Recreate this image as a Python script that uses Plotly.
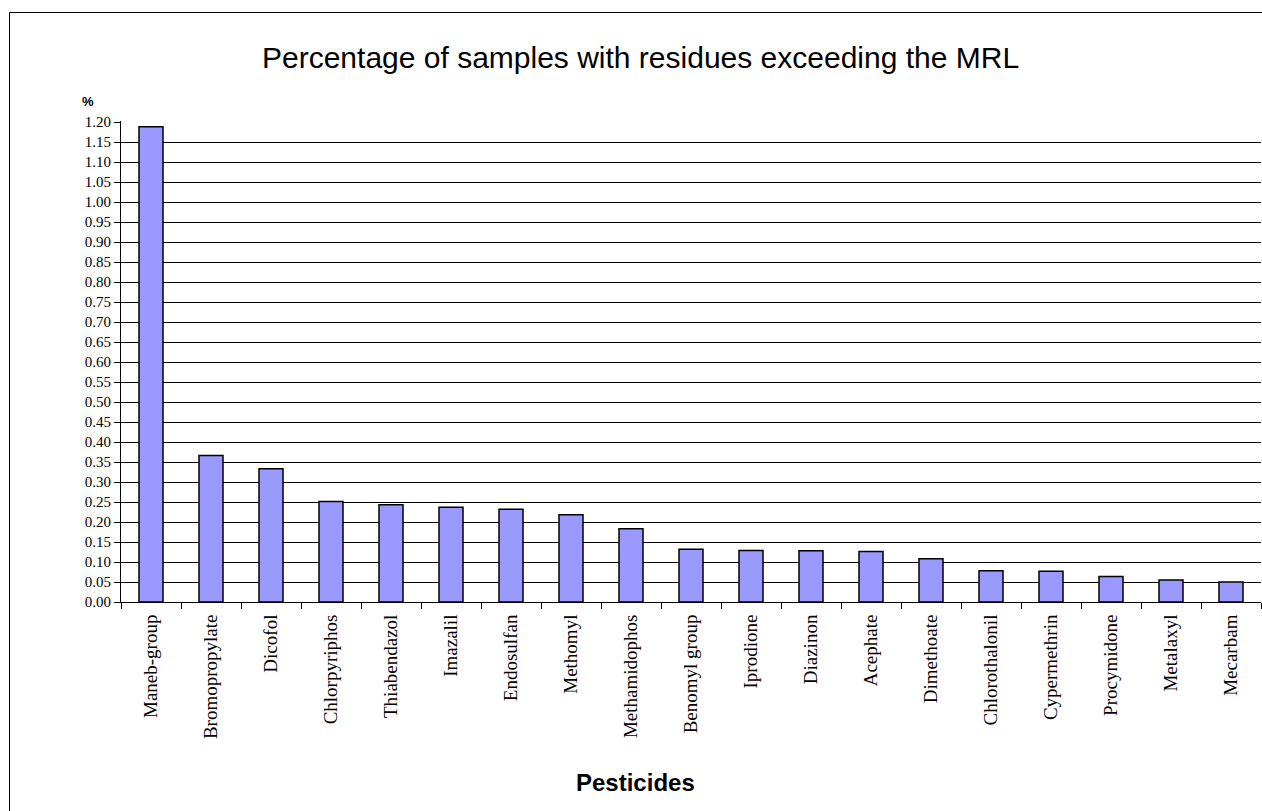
import plotly.graph_objects as go

pesticides = ["Maneb-group", "Bromopropylate", "Dicofol", "Chlorpyriphos", "Thiabendazol",
              "Imazalil", "Endosulfan", "Methomyl", "Methamidophos", "Benomyl group",
              "Iprodione", "Diazinon", "Acephate", "Dimethoate", "Chlorothalonil",
              "Cypermethrin", "Procymidone", "Metalaxyl", "Mecarbam"]
percent = [1.188, 0.366, 0.333, 0.251, 0.243, 0.237, 0.232, 0.218, 0.183, 0.132,
           0.129, 0.128, 0.126, 0.108, 0.078, 0.077, 0.064, 0.055, 0.050]
ytick_vals = [i * 0.05 for i in range(25)]
ytick_text = [f"{v:.2f}" for v in ytick_vals]

W, H = 1262, 811
L, R, T, B = 121, 1, 121, 209
pw = W - L - R
ph = H - T - B

def px_x(p):
    return (p - L) / pw

def px_y(p):
    return (H - B - p) / ph

fig = go.Figure()
fig.add_trace(go.Bar(
    x=pesticides, y=percent,
    marker=dict(color="#9999FF", line=dict(color="black", width=1.5)),
    hoverinfo="x+y",
))

fig.update_layout(
    width=W, height=H,
    margin=dict(l=L, r=R, t=T, b=B, pad=0),
    paper_bgcolor="white", plot_bgcolor="white",
    bargap=0.6,
    showlegend=False,
    xaxis=dict(
        type="category",
        showline=True, linecolor="black", linewidth=1,
        ticks="outside", tickson="boundaries", ticklen=6, tickcolor="black", tickwidth=1,
        tickangle=-90, ticklabelstandoff=4,
        tickfont=dict(family="Liberation Serif, Times New Roman, serif", size=19, color="black"),
        showgrid=False,
    ),
    yaxis=dict(
        range=[0, 1.2025],
        tickvals=ytick_vals, ticktext=ytick_text,
        showline=True, linecolor="black", linewidth=1,
        ticks="outside", ticklen=6, tickcolor="black", tickwidth=1,
        tickfont=dict(family="Liberation Serif, Times New Roman, serif", size=15, color="black"),
        showgrid=True, gridcolor="black", gridwidth=1,
        zeroline=False,
    ),
    font=dict(family="Liberation Sans, Arial, sans-serif", color="black"),
    annotations=[
        dict(text="Percentage of samples with residues exceeding the MRL",
             x=px_x(640), y=px_y(57), xref="paper", yref="paper",
             showarrow=False, xanchor="center", yanchor="middle",
             font=dict(family="Liberation Sans, Arial, sans-serif", size=30, color="black")),
        dict(text="<b>%</b>",
             x=px_x(88), y=px_y(102), xref="paper", yref="paper",
             showarrow=False, xanchor="center", yanchor="middle",
             font=dict(family="Liberation Sans, Arial, sans-serif", size=13, color="black")),
        dict(text="<b>Pesticides</b>",
             x=px_x(635), y=px_y(782), xref="paper", yref="paper",
             showarrow=False, xanchor="center", yanchor="middle",
             font=dict(family="Liberation Sans, Arial, sans-serif", size=24, color="black")),
    ],
    shapes=[
        dict(type="rect", xref="paper", yref="paper",
             x0=px_x(9.5), x1=px_x(1300), y0=px_y(850), y1=px_y(12.5),
             line=dict(color="black", width=1), fillcolor="rgba(0,0,0,0)", layer="below"),
    ],
)

fig.write_html("out.html", config={"displayModeBar": False},
               post_script="document.body.style.margin='0';document.body.style.overflow='hidden';")
